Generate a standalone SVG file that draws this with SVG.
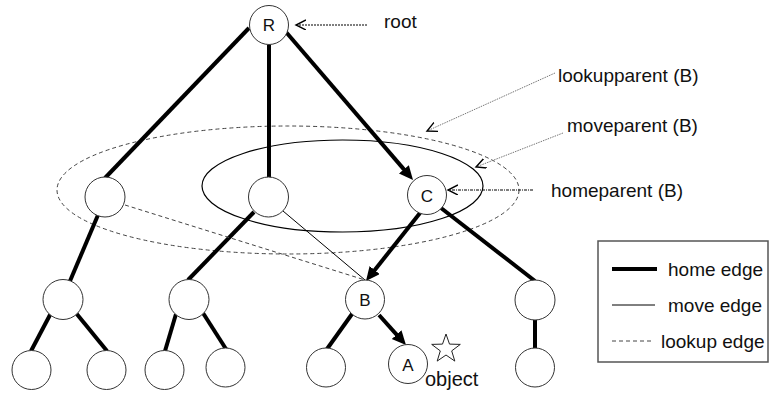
<svg xmlns="http://www.w3.org/2000/svg" width="769" height="393" viewBox="0 0 769 393">
  <defs>
    <style>
      .node { fill: #ffffff; stroke: #333333; stroke-width: 1; }
      .home { stroke: #000000; stroke-width: 4; fill: none; }
      .move { stroke: #000000; stroke-width: 1; fill: none; }
      .lookup { stroke: #444444; stroke-width: 1; stroke-dasharray: 4 3; fill: none; }
      .txt { font-family: "Liberation Sans", Arial, sans-serif; fill: #111111; }
      .lbl { font-size: 19px; }
      .nlbl { font-size: 17px; text-anchor: middle; }
      .ptr-black { stroke: #000000; stroke-width: 1.2; stroke-dasharray: 2 1; fill: none; }
      .ptr-gray { stroke: #777777; stroke-width: 1; stroke-dasharray: 1.5 1; fill: none; }
      .ptr-dashdot { stroke: #000000; stroke-width: 1.2; stroke-dasharray: 3 1 1 1; fill: none; }
    </style>
    <marker id="solidHead" markerUnits="userSpaceOnUse" markerWidth="16" markerHeight="14" refX="4" refY="6.5" orient="auto">
      <path d="M0,0 L14,6.5 L0,13 z" fill="#000000"/>
    </marker>
    <marker id="openHead" markerUnits="userSpaceOnUse" markerWidth="12" markerHeight="12" refX="10" refY="5" orient="auto">
      <path d="M0,0 L10,5 L0,10" fill="none" stroke="#000000" stroke-width="1.4"/>
    </marker>
  </defs>

  <rect x="0" y="0" width="769" height="393" fill="#ffffff"/>

  <!-- regions around C -->
  <g id="regions">
    <ellipse cx="288" cy="190" rx="231" ry="64" class="lookup"/>
    <ellipse cx="342.5" cy="186" rx="140.5" ry="46" fill="none" stroke="#000000" stroke-width="1.2"/>
  </g>

  <g id="connectors">
    <!-- home edges -->
    <line x1="249" y1="28" x2="105" y2="178" class="home"/>
    <line x1="269" y1="45" x2="269" y2="178" class="home"/>
    <line x1="286" y1="32" x2="406.5" y2="172.4" class="home" marker-end="url(#solidHead)"/>
    <line x1="420" y1="213" x2="372.2" y2="273.2" class="home" marker-end="url(#solidHead)"/>
    <line x1="441" y1="208" x2="535" y2="281" class="home"/>
    <line x1="98" y1="215" x2="70" y2="281" class="home"/>
    <line x1="254" y1="212" x2="188" y2="280" class="home"/>
    <line x1="51" y1="313" x2="31" y2="351" class="home"/>
    <line x1="76" y1="313" x2="107" y2="351" class="home"/>
    <line x1="176" y1="314" x2="165" y2="351" class="home"/>
    <line x1="203" y1="313" x2="226" y2="349" class="home"/>
    <line x1="352" y1="314" x2="327" y2="349" class="home"/>
    <line x1="379" y1="315" x2="399.3" y2="337.6" class="home" marker-end="url(#solidHead)"/>
    <line x1="535" y1="320" x2="535" y2="348" class="home"/>
    <!-- move edge -->
    <line x1="283" y1="211" x2="365" y2="280" class="move"/>
    <!-- lookup edge -->
    <line x1="125" y1="205" x2="365" y2="280" class="lookup"/>
    <!-- pointers -->
    <line x1="367" y1="25" x2="296" y2="25" class="ptr-black" marker-end="url(#openHead)"/>
    <line x1="555" y1="73" x2="427" y2="131" class="ptr-gray" marker-end="url(#openHead)"/>
    <line x1="563" y1="133" x2="476" y2="167" class="ptr-gray" marker-end="url(#openHead)"/>
    <line x1="533" y1="190" x2="448" y2="190" class="ptr-dashdot" marker-end="url(#openHead)"/>
  </g>

  <g id="node-R"><circle cx="269" cy="25" r="19.5" class="node"/><text x="269" y="31" class="txt nlbl">R</text></g>
  <g id="node-L1a"><circle cx="105" cy="197" r="20" class="node"/></g>
  <g id="node-L1b"><circle cx="268.5" cy="197" r="20" class="node"/></g>
  <g id="node-C"><circle cx="427" cy="195" r="19.5" class="node"/><text x="427" y="201.5" class="txt nlbl">C</text></g>
  <g id="node-L2a"><circle cx="63" cy="299.5" r="20" class="node"/></g>
  <g id="node-L2b"><circle cx="189" cy="299.5" r="20" class="node"/></g>
  <g id="node-B"><circle cx="365" cy="299.5" r="19.5" class="node"/><text x="365" y="306" class="txt nlbl">B</text></g>
  <g id="node-L2d"><circle cx="535" cy="300" r="20" class="node"/></g>
  <g id="node-L3a"><circle cx="31.5" cy="370" r="19.5" class="node"/></g>
  <g id="node-L3b"><circle cx="106.5" cy="370" r="19.5" class="node"/></g>
  <g id="node-L3c"><circle cx="164.5" cy="370" r="19.5" class="node"/></g>
  <g id="node-L3d"><circle cx="225.5" cy="367.5" r="19.5" class="node"/></g>
  <g id="node-L3e"><circle cx="326" cy="367.5" r="19.5" class="node"/></g>
  <g id="node-A"><circle cx="408" cy="364" r="19.5" class="node"/><text x="408" y="371" class="txt nlbl">A</text></g>
  <g id="node-L3g"><circle cx="535" cy="367.5" r="19.5" class="node"/></g>

  <g id="object">
    <polygon points="446,334 449.5,344.1 460.3,344.4 451.7,350.9 454.8,361.1 446,355 437.2,361.1 440.3,350.9 431.7,344.4 442.5,344.1" fill="#ffffff" stroke="#222222" stroke-width="1"/>
    <text x="425" y="386" class="txt" font-size="20">object</text>
  </g>

  <g id="labels">
    <text x="384" y="28" class="txt lbl" font-size="20">root</text>
    <text x="558" y="82" class="txt lbl">lookupparent (B)</text>
    <text x="567" y="132" class="txt lbl">moveparent (B)</text>
    <text x="551" y="197" class="txt lbl">homeparent (B)</text>
  </g>

  <g id="legend">
    <rect x="598" y="241" width="170" height="121" fill="#ffffff" stroke="#555555" stroke-width="1.5"/>
    <line x1="612" y1="269" x2="657" y2="269" class="home"/>
    <line x1="612" y1="305" x2="655" y2="305" class="move"/>
    <line x1="612" y1="341" x2="653" y2="341" class="lookup" stroke-dasharray="3 2"/>
    <text x="668" y="276" class="txt lbl">home edge</text>
    <text x="668" y="312" class="txt lbl">move edge</text>
    <text x="661" y="348" class="txt lbl">lookup edge</text>
  </g>
</svg>
